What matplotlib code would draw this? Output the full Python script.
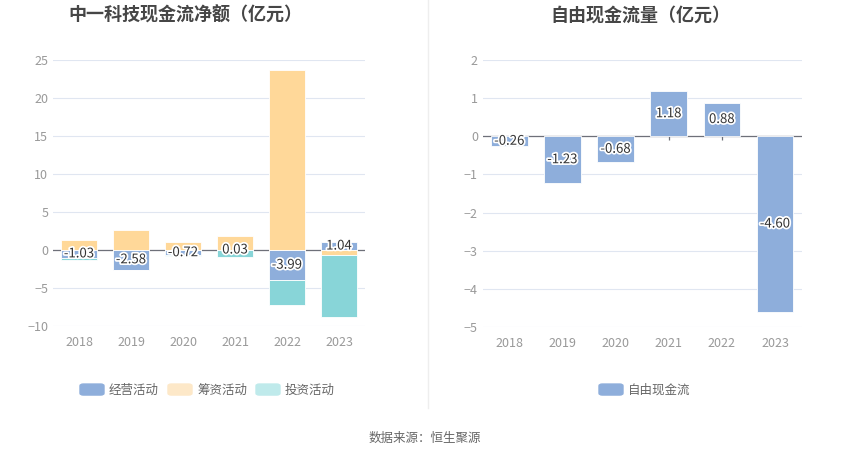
import numpy as np
import matplotlib
matplotlib.use("Agg")
from matplotlib import pyplot as plt
import matplotlib.patheffects as pe

plt.rcParams['font.family'] = ['Noto Sans CJK SC', 'DejaVu Sans']

# data
years = ['2018', '2019', '2020', '2021', '2022', '2023']
operating = [-1.03, -2.58, -0.72, 0.03, -3.99, 1.04]
financing = [1.36, 2.67, 1.00, 1.79, 23.67, -0.70]
investing = [-0.33, -0.02, -0.02, -0.87, -3.27, -8.18]
free_cf = [-0.26, -1.23, -0.68, 1.18, 0.88, -4.60]

c_blue = '#8eaedb'
c_orange = '#ffd899'
c_teal = '#88d5d8'
grid_c = '#e0e6f1'
txt_c = '#999999'

fig = plt.figure(figsize=(8.5, 4.59), dpi=100)
ax1 = fig.add_axes([0.0624, 0.2898, 0.367, 0.5795])
ax2 = fig.add_axes([0.568, 0.2876, 0.375, 0.5817])

x = np.arange(len(years))
w = 0.69

def style(ax, lo, hi, step):
    ax.set_xlim(-0.5, len(years) - 0.5)
    ax.set_ylim(lo, hi)
    ax.set_yticks(np.arange(lo, hi + step, step))
    ax.set_xticks(x)
    ax.set_xticklabels(years)
    for s in ax.spines.values():
        s.set_visible(False)
    ax.grid(axis='y', color=grid_c, linewidth=0.8)
    ax.set_axisbelow(True)
    ax.tick_params(axis='both', length=0, colors=txt_c, labelsize=9)
    ax.tick_params(axis='x', pad=7)
    ax.axhline(0, color='#6e7079', linewidth=0.9, zorder=1.5)

# left chart: echarts style stacking, positives up, negatives down
pos_base = np.zeros(len(years))
neg_base = np.zeros(len(years))
for vals, col in [(operating, c_blue), (financing, c_orange), (investing, c_teal)]:
    v = np.array(vals)
    base = np.where(v >= 0, pos_base, neg_base)
    ax1.bar(x, v, w, bottom=base, color=col, edgecolor='white', linewidth=0.6, zorder=2)
    pos_base = pos_base + np.where(v >= 0, v, 0)
    neg_base = neg_base + np.where(v < 0, v, 0)

style(ax1, -10, 25, 5)
stroke = [pe.withStroke(linewidth=2.5, foreground='white')]
for i, v in enumerate(operating):
    ax1.text(x[i], v / 2 if abs(v) > 0.5 else 0, '%.2f' % v, ha='center', va='center',
             fontsize=9.5, color='#333333', path_effects=stroke, zorder=5)

# right chart
ax2.bar(x, free_cf, w, color=c_blue, edgecolor='white', linewidth=0.6, zorder=2)
style(ax2, -5, 2, 1)
for i, v in enumerate(free_cf):
    ax2.text(x[i], v / 2, '%.2f' % v, ha='center', va='center',
             fontsize=9.5, color='#333333', path_effects=stroke, zorder=5)
ax2.vlines(x, -0.1, 0, color='#6e7079', linewidth=0.9, zorder=1.5)

fig.text(185 / 850, 1 - 15 / 459, '中一科技现金流净额（亿元）', ha='center', va='center',
         fontsize=13, fontweight='bold', color='#464646')
fig.text(640 / 850, 1 - 15 / 459, '自由现金流量（亿元）', ha='center', va='center',
         fontsize=13, fontweight='bold', color='#464646')

# divider
fig.add_artist(plt.Line2D([428 / 850, 428 / 850], [1 - 408 / 459, 1.0], color='#eeeeee', linewidth=1))

# legends
def legend_item(xc, label, col):
    bx = xc / 850
    by = 1 - 390 / 459
    fig.add_artist(matplotlib.patches.FancyBboxPatch((bx, by - 0.011), 24 / 850, 0.024,
                   boxstyle='round,pad=0,rounding_size=0.004', color=col, transform=fig.transFigure))
    fig.text(bx + 29 / 850, by, label, ha='left', va='center', fontsize=9, color='#666666')

legend_item(80, '经营活动', c_blue)
legend_item(168, '筹资活动', '#fde8c8')
legend_item(256, '投资活动', '#bfeaeb')
legend_item(599, '自由现金流', c_blue)

fig.text(425 / 850, 1 - 438 / 459, '数据来源：恒生聚源', ha='center', va='center',
         fontsize=9, color='#666666')

fig.savefig('out.png', dpi=100)
